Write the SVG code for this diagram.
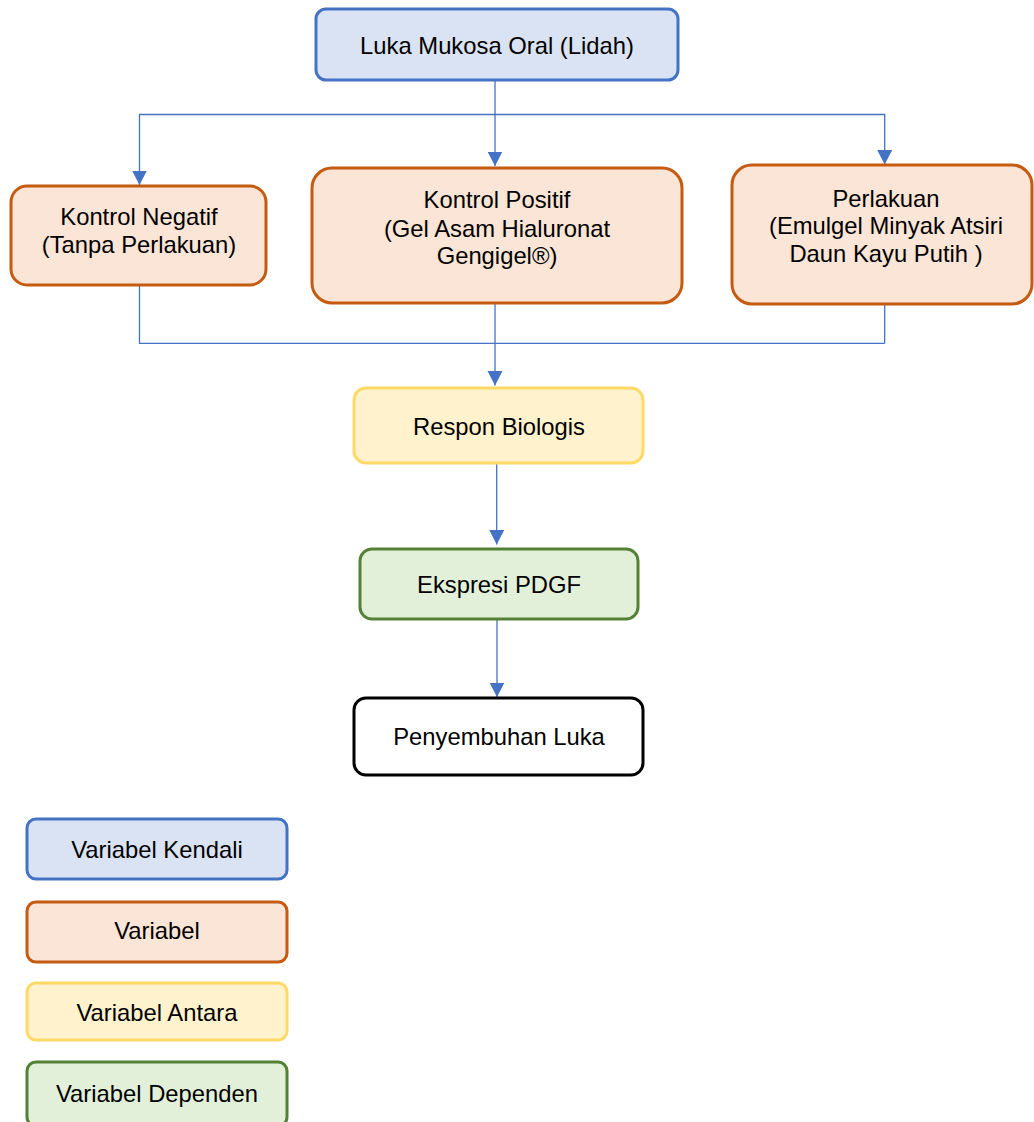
<svg xmlns="http://www.w3.org/2000/svg" width="1034" height="1122" viewBox="0 0 1034 1122">
<defs>
<style>
text{font-family:"Liberation Sans",Arial,sans-serif;font-size:23.8px;fill:#000;text-anchor:middle}
.blue{fill:#DAE3F3;stroke:#4472C4;stroke-width:3}
.orange{fill:#FBE5D6;stroke:#C55A11;stroke-width:3}
.yellow{fill:#FFF2CC;stroke:#FFD966;stroke-width:3}
.green{fill:#E2F0D9;stroke:#538135;stroke-width:3}
.black{fill:#FFFFFF;stroke:#000000;stroke-width:3}
.conn{fill:none;stroke:#4472C4;stroke-width:1.3}
</style>
<marker id="arr" markerUnits="userSpaceOnUse" markerWidth="16" markerHeight="16" refX="14.5" refY="7.5" orient="auto">
<path d="M0,0 L14.5,7.5 L0,15 z" fill="#4472C4"/>
</marker>
</defs>
<rect width="1034" height="1122" fill="#FFFFFF"/>
<g id="connectors">
<path class="conn" d="M495,80 V166" marker-end="url(#arr)"/>
<path class="conn" d="M495,114.5 H139.5 V185" marker-end="url(#arr)"/>
<path class="conn" d="M495,114.5 H884.7 V164.5" marker-end="url(#arr)"/>
<path class="conn" d="M139.5,285 V343.3 H884.7 M884.7,304 V343.3"/>
<path class="conn" d="M495,303 V385.5" marker-end="url(#arr)"/>
<path class="conn" d="M496.7,463 V544.5" marker-end="url(#arr)"/>
<path class="conn" d="M497,619 V697" marker-end="url(#arr)"/>
</g>
<g id="luka-mukosa">
<rect class="blue" x="316" y="9" width="362" height="71" rx="10"/>
<text x="497" y="54">Luka Mukosa Oral (Lidah)</text>
</g>
<g id="kontrol-negatif">
<rect class="orange" x="11" y="186" width="255" height="99" rx="16"/>
<text x="139" y="225.3">Kontrol Negatif</text>
<text x="139" y="253">(Tanpa Perlakuan)</text>
</g>
<g id="kontrol-positif">
<rect class="orange" x="312" y="168" width="370" height="135" rx="20"/>
<text x="497" y="208.3">Kontrol Positif</text>
<text x="497" y="236.5">(Gel Asam Hialuronat</text>
<text x="497" y="264">Gengigel®)</text>
</g>
<g id="perlakuan">
<rect class="orange" x="732" y="165" width="300" height="139" rx="20"/>
<text x="886" y="206.7">Perlakuan</text>
<text x="886" y="234.3">(Emulgel Minyak Atsiri</text>
<text x="886" y="262.3">Daun Kayu Putih )</text>
</g>
<g id="respon-biologis">
<rect class="yellow" x="354" y="388" width="289" height="75" rx="12"/>
<text x="499" y="435">Respon Biologis</text>
</g>
<g id="ekspresi-pdgf">
<rect class="green" x="360" y="549" width="278" height="70" rx="12"/>
<text x="499" y="593.3">Ekspresi PDGF</text>
</g>
<g id="penyembuhan-luka">
<rect class="black" x="354" y="698" width="289" height="77" rx="12"/>
<text x="499" y="745">Penyembuhan Luka</text>
</g>
<g id="legend-kendali">
<rect class="blue" x="27" y="819" width="260" height="60" rx="9"/>
<text x="157" y="858.3">Variabel Kendali</text>
</g>
<g id="legend-variabel">
<rect class="orange" x="27" y="902" width="260" height="60" rx="9"/>
<text x="157" y="939.3">Variabel</text>
</g>
<g id="legend-antara">
<rect class="yellow" x="27" y="983" width="260" height="57" rx="9"/>
<text x="157" y="1020.7">Variabel Antara</text>
</g>
<g id="legend-dependen">
<rect class="green" x="27" y="1062" width="260" height="64" rx="9"/>
<text x="157" y="1101.7">Variabel Dependen</text>
</g>
</svg>
